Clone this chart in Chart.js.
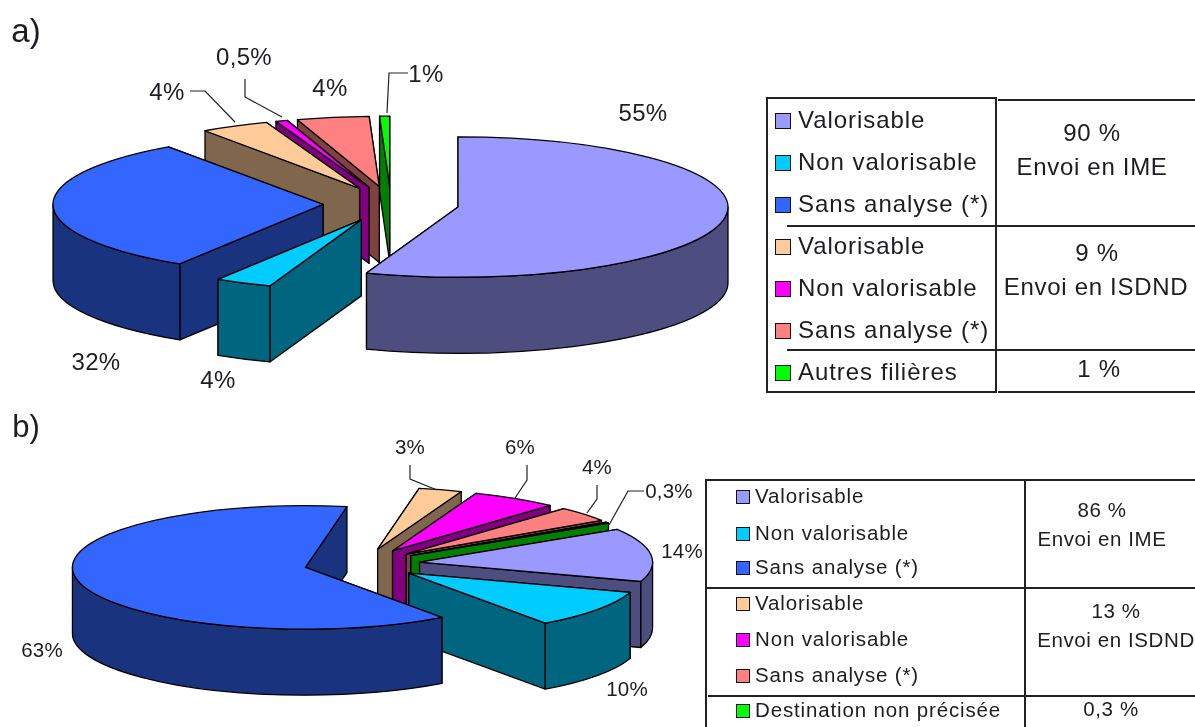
<!DOCTYPE html>
<html lang="fr"><head><meta charset="utf-8">
<script src="https://cdn.jsdelivr.net/npm/chart.js@4"></script>
<style>
html,body{margin:0;padding:0;background:#fff;overflow:hidden}
#page{position:relative;width:1195px;height:727px;overflow:hidden;font-family:"Liberation Sans",Arial,sans-serif;color:#1c1c22}
canvas{position:absolute;display:block}
.t{position:absolute;white-space:nowrap;line-height:1;transform:translate(-50%,-50%)}
.l{position:absolute;white-space:nowrap;line-height:1;transform:translateY(-50%)}
.sw{position:absolute;box-sizing:border-box;border:1.5px solid #111}
.h,.v{position:absolute;background:#222}
svg{position:absolute;left:0;top:0}
</style></head><body><div id="page">
<canvas id="pieA" width="782" height="408" style="left:0;top:0"></canvas>
<canvas id="pieB" width="724" height="322" style="left:0;top:403px"></canvas>
<svg id="lines" width="1195" height="727"></svg>
</div>
<script>
const categoriesA = ['Valorisable','Non valorisable','Sans analyse (*)','Valorisable','Non valorisable','Sans analyse (*)','Autres filières'];
const valuesA = [55.5,3.4,31.4,4.1,0.7,4.3,0.6];
const labelsA = ['55%','4%','32%','4%','0,5%','4%','1%'];
const categoriesB = ['Valorisable','Non valorisable','Sans analyse (*)','Valorisable','Non valorisable','Sans analyse (*)','Destination non précisée'];
const valuesB = [14,10,63,3,6,4,0.3];
const labelsB = ['14%','10%','63%','3%','6%','4%','0,3%'];
const topColors = ['#9999FF','#00CCFF','#3366FF','#FFCC99','#FF00FF','#FF8080','#00FF00'];
const sideColors = ['#4D4D80','#006680','#1A337F','#80664D','#800080','#804040','#008000'];
const groupsA = [['90 %','Envoi en IME'],['9 %','Envoi en ISDND'],['1 %','']];
const groupsB = [['86 %','Envoi en IME'],['13 %','Envoi en ISDND'],['0,3 %','']];

const pie3d = {
  id:'pie3d',
  beforeDatasetsDraw(chart,args,o){
    const ctx=chart.ctx, k=o.tilt, D=o.depth, d=o.explode, sides=o.sides;
    const arcs=chart.getDatasetMeta(0).data.map((el,i)=>{
      const p=el.getProps(['x','y','startAngle','endAngle','outerRadius'],true);
      const mid=(p.startAngle+p.endAngle)/2;
      const ax=p.x+d*Math.cos(mid), ay=p.y+d*k*Math.sin(mid);
      const R=p.outerRadius, pt=t=>[ax+R*Math.cos(t),ay+R*k*Math.sin(t)];
      let front=[];
      for(let n=-1;n<3;n++){
        const a=Math.max(p.startAngle,2*Math.PI*n), b=Math.min(p.endAngle,2*Math.PI*n+Math.PI);
        if(b>a) front.push([a,b]);
      }
      let maxY=Math.max(ay,pt(p.startAngle)[1],pt(p.endAngle)[1]);
      front.forEach(f=>{
        maxY=Math.max(maxY,pt(f[0])[1],pt(f[1])[1]);
        for(let n=-1;n<3;n++){const c=2*Math.PI*n+Math.PI/2; if(c>=f[0]&&c<=f[1]) maxY=Math.max(maxY,pt(c)[1]);}
      });
      return {el,i,p,ax,ay,R,pt,front,maxY};
    }).sort((u,v)=>u.maxY-v.maxY);
    ctx.save();
    ctx.lineWidth=1.3; ctx.strokeStyle='#000'; ctx.lineJoin='round';
    arcs.forEach(s=>{
      const {p,ax,ay,R,pt,front,el,i}=s;
      ctx.fillStyle=sides[i];
      const walls=[p.startAngle,p.endAngle].sort((u,v)=>pt(u)[1]-pt(v)[1]);
      walls.forEach(t=>{
        const q=pt(t);
        ctx.beginPath();ctx.moveTo(ax,ay);ctx.lineTo(q[0],q[1]);ctx.lineTo(q[0],q[1]+D);ctx.lineTo(ax,ay+D);ctx.closePath();
        ctx.fill();ctx.stroke();
      });
      front.forEach(f=>{
        ctx.beginPath();
        ctx.ellipse(ax,ay,R,R*k,0,f[0],f[1]);
        ctx.ellipse(ax,ay+D,R,R*k,0,f[1],f[0],true);
        ctx.closePath();ctx.fill();ctx.stroke();
      });
      ctx.save();
      ctx.translate(ax,ay);ctx.scale(1,k);ctx.translate(-p.x,-p.y);
      el.draw(ctx);
      ctx.restore();
      ctx.beginPath();ctx.moveTo(ax,ay);
      ctx.ellipse(ax,ay,R,R*k,0,p.startAngle,p.endAngle);
      ctx.closePath();ctx.stroke();
    });
    ctx.restore();
    return false;
  }
};

function makePie(id,cats,vals,rotation,radius,tilt,depth,explode){
  return new Chart(document.getElementById(id),{
    type:'pie',
    data:{labels:cats,datasets:[{data:vals,backgroundColor:topColors,borderWidth:0,offset:0}]},
    options:{responsive:false,animation:false,rotation,radius,events:[],
      layout:{padding:0},
      plugins:{legend:{display:false},tooltip:{enabled:false},
        pie3d:{tilt,depth,explode,sides:sideColors}}},
    plugins:[pie3d]
  });
}
makePie('pieA',categoriesA,valuesA,0,270,0.26,76,68);
makePie('pieB',categoriesB,valuesB,58,233,0.265,66,58);

const page=document.getElementById('page');
function add(cls,css,text){const e=document.createElement('div');e.className=cls;e.style.cssText=css;if(text!==undefined)e.textContent=text;page.appendChild(e);return e;}
function txt(s,x,y,size,sp){add('t',`left:${x}px;top:${y}px;font-size:${size}px;letter-spacing:${sp||0}px`,s);}
function hline(x1,x2,y,w){add('h',`left:${x1}px;top:${y}px;width:${x2-x1}px;height:${w}px`);}
function vline(x,y1,y2,w){add('v',`left:${x}px;top:${y1}px;width:${w}px;height:${y2-y1}px`);}

txt('a)',26,30,33); txt('b)',26,426,31);
[[643,113],[218,380],[96,362],[167,92],[244,57],[330,88],[426,74]].forEach((q,i)=>txt(labelsA[i],q[0],q[1],24,0.3));
[[682,551],[627,689],[42,650],[410,447],[520,447],[597,467],[669,491]].forEach((q,i)=>txt(labelsB[i],q[0],q[1],20.5,0.2));

const leaders=[
 [[190,91],[205,91],[235,122]],[[245,79],[245,97],[282,117]],[[408,73],[389,73],[387,113]],
 [[410,465],[410,479],[437,490]],[[527,465],[527,480],[515,498]],[[597,485],[597,499],[587,513]],[[644,491],[628,491],[609,525]]
];
document.getElementById('lines').innerHTML=leaders.map(p=>`<polyline points="${p.map(q=>q.join(',')).join(' ')}" fill="none" stroke="#222" stroke-width="1.2"/>`).join('');

const rowsA=[120,162,204,246,288,330,372], rowsB=[496,533,567,603,639,675,710];
categoriesA.forEach((c,i)=>{
  add('sw',`left:775px;top:${rowsA[i]-7}px;width:16px;height:16px;background:${topColors[i]}`);
  add('l',`left:798px;top:${rowsA[i]}px;font-size:24px;letter-spacing:0.95px`,c);
});
categoriesB.forEach((c,i)=>{
  add('sw',`left:736px;top:${rowsB[i]-6}px;width:14px;height:14px;background:${topColors[i]}`);
  add('l',`left:755px;top:${rowsB[i]}px;font-size:20.5px;letter-spacing:0.85px`,c);
});
[[1092,133,groupsA[0][0]],[1092,167,groupsA[0][1]],[1097,253,groupsA[1][0]],[1096,287,groupsA[1][1]],[1099,369,groupsA[2][0]]].forEach(q=>txt(q[2],q[0],q[1],24,0.7));
[[1102,510,groupsB[0][0]],[1102,539,groupsB[0][1]],[1116,611,groupsB[1][0]],[1116,640,groupsB[1][1]],[1111,709,groupsB[2][0]]].forEach(q=>txt(q[2],q[0],q[1],20.5,0.6));

hline(766,997,97,2);hline(766,997,391,2);vline(766,97,393,2);vline(995,97,393,2);
hline(998,1195,99,2);hline(998,1195,391,2);hline(787,1195,225,2);hline(787,1195,349,2);
hline(705,1195,479,2);hline(705,1195,587,2);hline(708,1195,695,2);vline(705,479,727,2);vline(1024,479,727,2);
</script></body></html>
